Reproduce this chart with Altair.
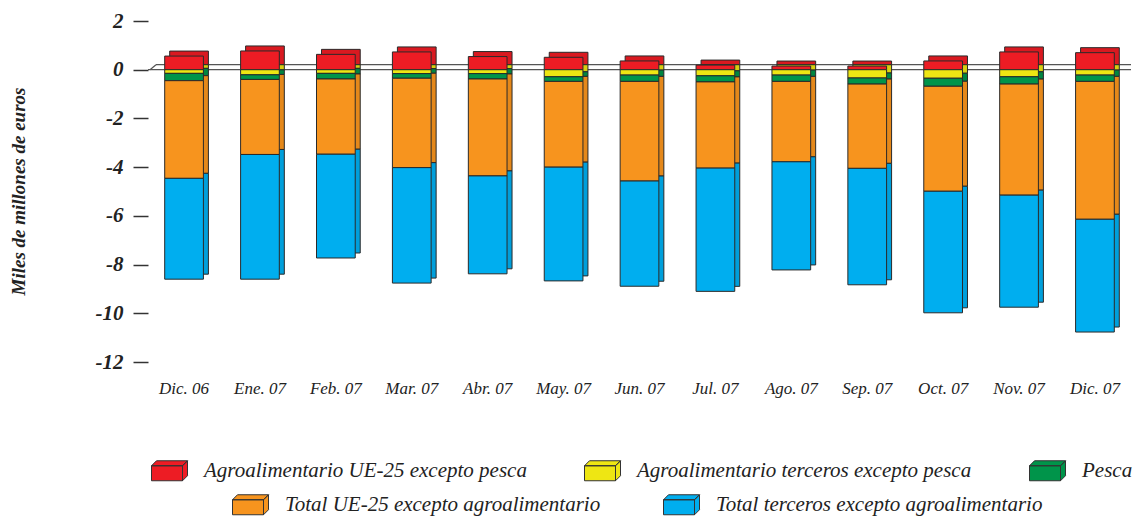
import altair as alt
import pandas as pd

months = ["Dic. 06", "Ene. 07", "Feb. 07", "Mar. 07", "Abr. 07", "May. 07", "Jun. 07",
          "Jul. 07", "Ago. 07", "Sep. 07", "Oct. 07", "Nov. 07", "Dic. 07"]

agro_ue = [0.56, 0.77, 0.63, 0.73, 0.54, 0.51, 0.36, 0.19, 0.15, 0.15, 0.36, 0.73, 0.70]
agro_terceros = [-0.15, -0.21, -0.15, -0.16, -0.16, -0.29, -0.22, -0.25, -0.22, -0.34, -0.35, -0.29, -0.22]
pesca = [-0.30, -0.19, -0.23, -0.19, -0.22, -0.19, -0.26, -0.25, -0.26, -0.25, -0.33, -0.30, -0.26]
total_ue = [-4.01, -3.08, -3.09, -3.67, -3.98, -3.52, -4.09, -3.54, -3.30, -3.46, -4.31, -4.56, -5.66]
total_terceros = [-4.14, -5.12, -4.26, -4.74, -4.02, -4.67, -4.32, -5.06, -4.44, -4.78, -4.99, -4.60, -4.63]

series_names = ["Agroalimentario UE-25 excepto pesca",
                "Agroalimentario terceros excepto pesca",
                "Pesca",
                "Total UE-25 excepto agroalimentario",
                "Total terceros excepto agroalimentario"]
front_colors = ["#ED1C24", "#EEE613", "#00944A", "#F7941E", "#00AEEF"]
back_colors = ["#D91920", "#D8D010", "#008541", "#E5881A", "#009FDB"]
y_ticks = [-12, -10, -8, -6, -4, -2, 0, 2]

series_values = [agro_ue, agro_terceros, pesca, total_ue, total_terceros]
rows = []
for i, m in enumerate(months):
    for k, name in enumerate(series_names):
        rows.append({"mes": m, "serie": name, "valor": series_values[k][i],
                     "orden": k, "fila": 1 if k < 3 else 2})
df = pd.DataFrame(rows)
zero_df = pd.DataFrame({"v": [0]})

W, H = 983, 341
FONT = "Liberation Serif"
BOX = ("M-1.8,-0.5H1.3V1H-1.8Z "
       "M-1.8,-0.5L-1.3,-1H1.8L1.3,-0.5Z "
       "M1.3,-0.5L1.8,-1V0.5L1.3,1Z")

x_enc = alt.X("mes:N", sort=months,
              scale=alt.Scale(paddingInner=0.49, paddingOuter=0.22),
              axis=alt.Axis(title=None, labelAngle=0, ticks=False, domain=False,
                            labelFont=FONT, labelFontStyle="italic", labelFontSize=17,
                            labelColor="#222", labelPadding=18))

y_scale = alt.Scale(domain=[-12, 2], nice=False, zero=False)
y_axis = alt.Axis(title="Miles de millones de euros", values=y_ticks,
                  labelExpr="datum.value + ''", grid=False, domain=False,
                  tickSize=15, tickColor="#333", tickWidth=1.5,
                  labelFont=FONT, labelFontStyle="italic", labelFontWeight="bold",
                  labelFontSize=21, labelColor="#222", labelPadding=10,
                  titleFont=FONT, titleFontStyle="italic", titleFontWeight="bold",
                  titleFontSize=19, titleColor="#222", titleX=-130, titleY=170,
                  titleAlign="center", titleBaseline="middle")

base = alt.Chart(df).transform_stack(
    stack="valor", groupby=["mes"], as_=["y0", "y1"],
    sort=[alt.SortField(field="orden", order="ascending")])

def legend(x, y, cols, pad):
    return alt.Legend(title=None, orient="none", legendX=x, legendY=y,
                      direction="horizontal", columns=cols, symbolType=BOX,
                      symbolSize=400, symbolStrokeColor="#333", symbolStrokeWidth=1,
                      symbolOpacity=1, labelFont=FONT, labelFontStyle="italic",
                      labelFontSize=21, labelColor="#222", labelOffset=24,
                      columnPadding=pad, padding=0, labelLimit=600)

back = base.mark_bar(stroke="#2a2a2a", strokeWidth=1, xOffset=5, x2Offset=5,
                     yOffset=-5, y2Offset=-5).encode(
    x=x_enc,
    y=alt.Y("y0:Q", scale=y_scale, axis=y_axis),
    y2="y1:Q",
    color=alt.Color("serie:N", scale=alt.Scale(domain=series_names, range=back_colors),
                    legend=None))

front1 = base.transform_filter("datum.fila == 1").mark_bar(
    stroke="#2a2a2a", strokeWidth=1).encode(
    x=x_enc,
    y=alt.Y("y0:Q", scale=y_scale, axis=y_axis),
    y2="y1:Q",
    color=alt.Color("serie:N", scale=alt.Scale(domain=series_names[:3], range=front_colors[:3]),
                    legend=legend(11, 439, 3, 55)))

front2 = base.transform_filter("datum.fila == 2").mark_bar(
    stroke="#2a2a2a", strokeWidth=1).encode(
    x=x_enc,
    y=alt.Y("y0:Q", scale=y_scale, axis=y_axis),
    y2="y1:Q",
    color=alt.Color("serie:N", scale=alt.Scale(domain=series_names[3:], range=front_colors[3:]),
                    legend=legend(92, 473, 2, 60)))

floor_low = alt.Chart(zero_df).mark_rule(color="#555", strokeWidth=1.2).encode(
    y=alt.Y("v:Q", scale=y_scale, axis=y_axis))
floor_high = alt.Chart(zero_df).mark_rule(color="#555", strokeWidth=1.2, yOffset=-5).encode(
    y=alt.Y("v:Q", scale=y_scale, axis=y_axis), x=alt.value(8), x2=alt.value(W))
floor_diag = alt.Chart(zero_df).mark_rule(color="#555", strokeWidth=1.2, y2Offset=-5).encode(
    y=alt.Y("v:Q", scale=y_scale, axis=y_axis), y2="v:Q", x=alt.value(2), x2=alt.value(8))

chart = alt.layer(floor_low, floor_high, floor_diag, back, front1, front2).resolve_scale(
    color="independent"
).properties(
    width=W, height=H,
    padding={"left": 140, "top": 13, "right": 2, "bottom": 155},
    autosize=alt.AutoSizeParams(type="none"),
).configure_view(stroke=None)

chart.save("out.html", embed_options={"renderer": "svg", "actions": False})
